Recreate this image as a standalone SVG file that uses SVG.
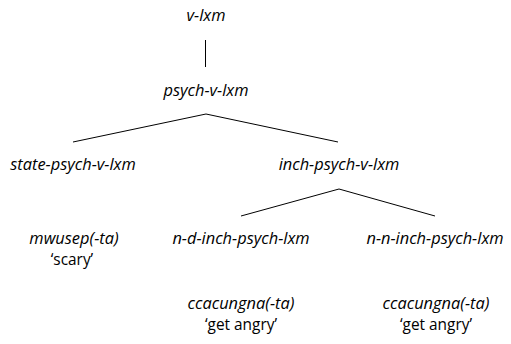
<svg xmlns="http://www.w3.org/2000/svg" width="511" height="344" viewBox="0 0 511 344">
<style>
text{font-family:"Open Sans","Noto Sans","DejaVu Sans",sans-serif;font-size:16.4px;fill:#000;text-anchor:middle}
.t{font-style:italic}
.g{font-style:normal;font-size:15.4px}
.e{stroke:#000;stroke-width:1;fill:none}
</style>
<rect width="511" height="344" fill="#fff"/>
<g id="connectors">
<line class="e" x1="205.5" y1="40" x2="205.5" y2="67"/>
<polyline class="e" points="73,142 206,114 338,142"/>
<polyline class="e" points="241,216 339,189 435,216"/>
</g>
<g id="v-lxm"><text class="t" x="206" y="21">v-lxm</text></g>
<g id="psych-v-lxm"><text class="t" x="206" y="96">psych-v-lxm</text></g>
<g id="state-psych-v-lxm"><text class="t" x="73" y="170">state-psych-v-lxm</text></g>
<g id="inch-psych-v-lxm"><text class="t" x="339" y="170">inch-psych-v-lxm</text></g>
<g id="mwusep"><text class="t" x="74" y="244">mwusep(-ta)</text><text class="g" x="72" y="265.2">‘scary’</text></g>
<g id="n-d-inch-psych-lxm"><text class="t" x="241" y="244">n-d-inch-psych-lxm</text></g>
<g id="n-n-inch-psych-lxm"><text class="t" x="435" y="244">n-n-inch-psych-lxm</text></g>
<g id="ccacungna-1"><text class="t" x="241" y="309">ccacungna(-ta)</text><text class="g" x="241" y="330.2">‘get angry’</text></g>
<g id="ccacungna-2"><text class="t" x="436" y="309">ccacungna(-ta)</text><text class="g" x="436" y="330.2">‘get angry’</text></g>
</svg>
